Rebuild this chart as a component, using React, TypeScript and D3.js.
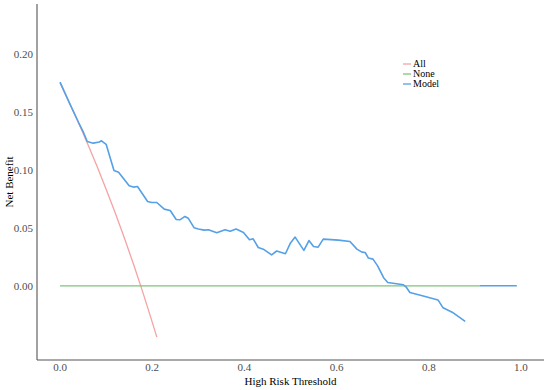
import React from 'react';
import * as d3 from 'd3';

// data
const thresholds = [0, 0.02, 0.04, 0.06, 0.08, 0.1, 0.12, 0.14, 0.16, 0.18, 0.2, 0.21];
const allBenefit = [0.175, 0.158, 0.1406, 0.1223, 0.1032, 0.0833, 0.0625, 0.0407, 0.0179, -0.0061, -0.0313, -0.0443];

const noneX = [0, 0.911];
const noneY = [0, 0];

const modelX = [0, 0.02, 0.04, 0.05, 0.059, 0.072, 0.085, 0.09, 0.1, 0.117, 0.127, 0.15, 0.159, 0.168,
  0.19, 0.199, 0.21, 0.226, 0.239, 0.252, 0.26, 0.271, 0.278, 0.291, 0.3, 0.313, 0.322, 0.34, 0.358,
  0.369, 0.382, 0.398, 0.411, 0.419, 0.43, 0.441, 0.459, 0.47, 0.489, 0.5, 0.51, 0.529, 0.54, 0.55,
  0.56, 0.571, 0.604, 0.629, 0.644, 0.655, 0.662, 0.669, 0.679, 0.689, 0.702, 0.711, 0.745, 0.751,
  0.759, 0.786, 0.82, 0.831, 0.853, 0.879];
const modelY = [0.1756, 0.158, 0.141, 0.133, 0.1244, 0.123, 0.124, 0.125, 0.122, 0.0994, 0.098, 0.0862,
  0.0851, 0.0856, 0.0727, 0.0718, 0.0718, 0.0661, 0.0649, 0.0572, 0.0569, 0.0598, 0.0583, 0.05, 0.049,
  0.048, 0.0483, 0.0457, 0.0483, 0.047, 0.0489, 0.046, 0.0397, 0.0405, 0.033, 0.0316, 0.0267, 0.03,
  0.0276, 0.037, 0.042, 0.0305, 0.039, 0.0339, 0.0333, 0.0402, 0.0394, 0.0382, 0.0316, 0.029, 0.0287,
  0.0239, 0.023, 0.0172, 0.007, 0.0029, 0.0009, -0.0011, -0.0058, -0.0086, -0.0122, -0.019, -0.0233,
  -0.0307];
const modelTailX = [0.911, 0.991];
const modelTailY = [0, 0];

const xTicks = [0, 0.2, 0.4, 0.6, 0.8, 1.0];
const yTicks = [0, 0.05, 0.1, 0.15, 0.2];
const legendNames = ['All', 'None', 'Model'];
const colors = ['#F5A3A3', '#7CC679', '#55A0E6'];

const W = 550, H = 390;

export default function App() {
  const x = d3.scaleLinear().domain([-0.05, 1.05]).range([37, 544]);
  const y = d3.scaleLinear().domain([-0.064, 0.243]).range([360, 4]);

  const line = d3.line<[number, number]>().x(d => x(d[0])).y(d => y(d[1]));
  const zip = (a: number[], b: number[]) => a.map((v, i) => [v, b[i]] as [number, number]);

  const font = "'Liberation Serif', 'Times New Roman', serif";

  return (
    <svg width={W} height={H} style={{ position: 'absolute', left: 0, top: 0, background: '#fff' }} fontFamily={font}>
      <rect width={W} height={H} fill="#fff" />
      {/* series */}
      <path d={line(zip(thresholds, allBenefit)) || ''} fill="none" stroke={colors[0]} strokeWidth={1.3} />
      <path d={line(zip(noneX, noneY)) || ''} fill="none" stroke={colors[1]} strokeWidth={1.3} />
      <path d={line(zip(modelX, modelY)) || ''} fill="none" stroke={colors[2]} strokeWidth={1.6} strokeLinejoin="round" />
      <path d={line(zip(modelTailX, modelTailY)) || ''} fill="none" stroke={colors[2]} strokeWidth={1.6} />

      {/* axes */}
      <line x1={x.range()[0]} x2={x.range()[0]} y1={y.range()[1]} y2={y.range()[0]} stroke="#555" strokeWidth={1.1} />
      <line x1={x.range()[0]} x2={x.range()[1]} y1={y.range()[0]} y2={y.range()[0]} stroke="#555" strokeWidth={1.1} />

      {yTicks.map(t => (
        <text key={t} x={33} y={y(t)} dy="0.35em" textAnchor="end" fontSize={11} fill="#4d4d4d">{t.toFixed(2)}</text>
      ))}
      {xTicks.map(t => (
        <text key={t} x={x(t)} y={371} textAnchor="middle" fontSize={11} fill="#4d4d4d">{t.toFixed(1)}</text>
      ))}

      <text x={(x.range()[0] + x.range()[1]) / 2} y={385} textAnchor="middle" fontSize={11} fill="#000">High Risk Threshold</text>
      <text transform={`translate(13, ${(y.range()[0] + y.range()[1]) / 2}) rotate(-90)`} textAnchor="middle" fontSize={11} fill="#000">Net Benefit</text>

      {/* legend */}
      {legendNames.map((n, i) => (
        <g key={n} transform={`translate(403, ${64 + i * 10})`}>
          <line x1={0} x2={8} y1={0} y2={0} stroke={colors[i]} strokeWidth={1.3} />
          <text x={10} y={0} dy="0.33em" fontSize={10} fill="#000">{n}</text>
        </g>
      ))}
    </svg>
  );
}
